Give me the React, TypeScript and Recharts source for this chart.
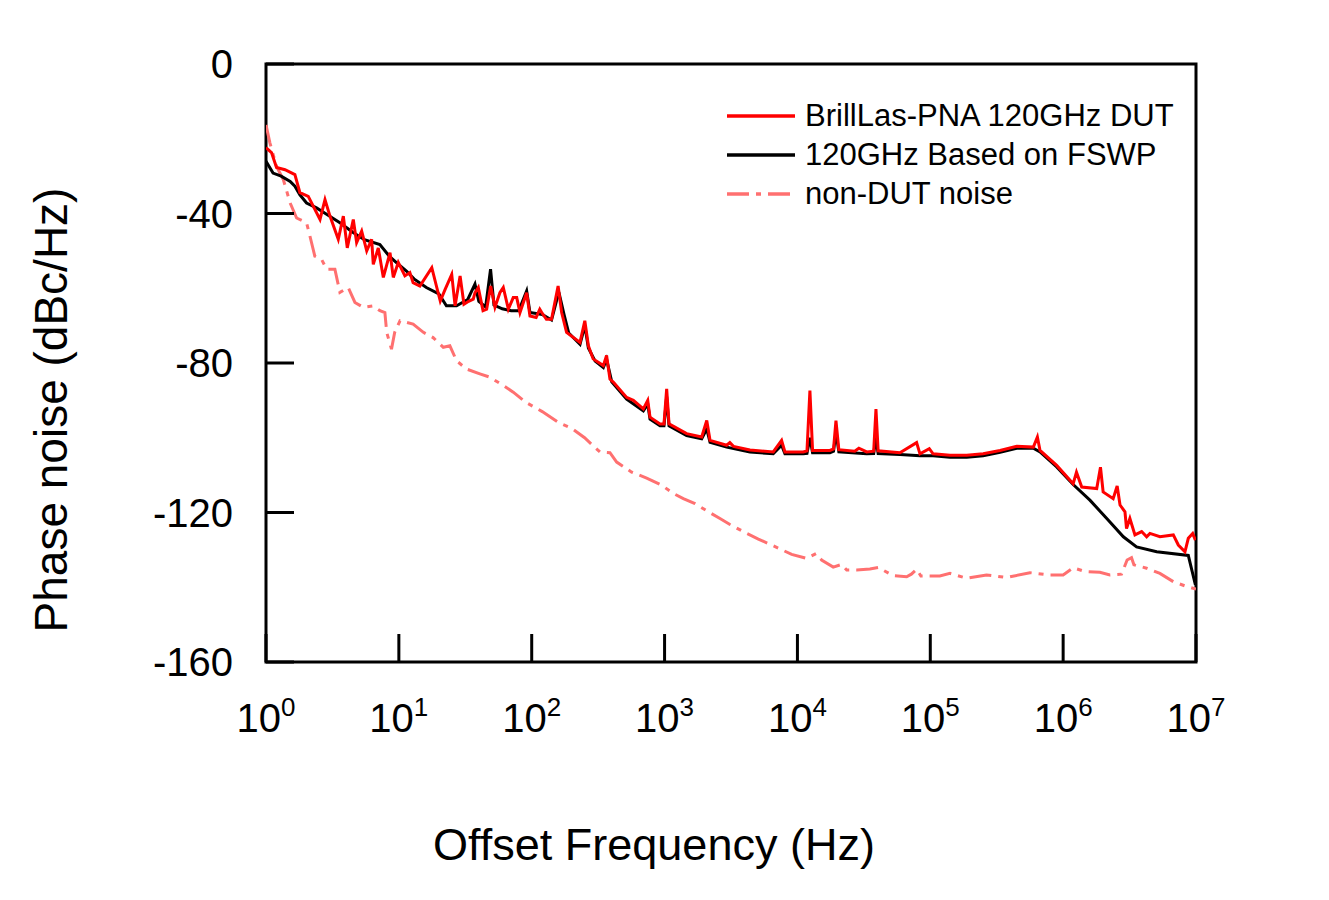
import React from "react";
import {
  LineChart,
  Line,
  XAxis,
  YAxis,
  ReferenceArea,
  Legend,
  Label,
} from "recharts";

const FONT = "'Liberation Sans', Arial, sans-serif";

// BrillLas-PNA 120GHz DUT (red)
const dutFreq = [
  1.0, 1.1, 1.2, 1.39, 1.65, 1.8, 2.08, 2.55, 2.78, 3.03, 3.5, 3.82, 4.09, 4.54,
  4.81, 5.25, 5.73, 6.24, 6.42, 7.0, 7.64, 8.58, 9.08, 9.9, 11.1, 12.1, 12.8,
  14.4, 17.7, 19.3, 20.5, 22.3, 25, 26.5, 28.9, 30.9, 33.5, 36.3, 37.4, 39.6,
  43, 45.8, 49.1, 52.9, 57.6, 61.1, 66.7, 72.6, 77.1, 81.6, 91.6, 97, 108, 115,
  119, 129, 141, 158, 168, 183, 231, 251, 267, 290, 346, 366, 388, 411, 518,
  582, 692, 747, 777, 924, 990, 1037, 1080, 1466, 1903, 2077, 2199, 2933, 3100,
  3300, 4394, 6577, 7600, 8054, 11063, 11800, 12415, 13000, 17568, 18700, 19498,
  20500, 27000, 29000, 33200, 37500, 39000, 40500, 59100, 78900, 83600, 98300,
  105000, 140700, 188000, 250000, 335000, 447000, 597000, 640000, 670000,
  894000, 1190000, 1260000, 1380000, 1790000, 1910000, 2000000, 2380000,
  2550000, 2680000, 2920000, 3000000, 3180000, 3470000, 3900000, 4250000,
  4500000, 5350000, 6750000, 7360000, 8260000, 8750000, 9440000, 9900000,
];
const dutPhase = [
  -22.4, -23.7, -27.7, -28.3, -29.6, -34.4, -35.4, -41.6, -36.3, -40.7, -46.9,
  -40.7, -49.2, -41.6, -47.8, -44.7, -50.0, -46.9, -53.6, -49.2, -57.1, -50.5,
  -57.1, -53.1, -56.7, -55.8, -58.5, -59.4, -54.5, -59.8, -63.4, -60.3, -56.3,
  -64.7, -56.7, -64.3, -63.5, -62.9, -61.2, -59.8, -66.0, -65.6, -59.4, -65.1,
  -61.2, -59.8, -65.6, -62.5, -62.5, -66.5, -61.2, -67.4, -67.8, -65.6, -66.5,
  -68.3, -68.3, -59.4, -66.5, -71.8, -74.5, -68.7, -75.4, -78.9, -80.7, -78.0,
  -84.3, -85.1, -89.2, -90.0, -92.3, -90.0, -94.5, -96.3, -96.3, -86.9, -96.3,
  -98.9, -99.8, -95.4, -100.7, -102.0, -101.3, -102.3, -103.3, -103.8, -100.7,
  -103.8, -103.8, -103.5, -87.4, -103.4, -103.4, -103.0, -95.4, -103.2, -103.6,
  -102.8, -103.8, -103.6, -92.3, -103.5, -104.0, -101.3, -104.3, -102.9,
  -104.3, -104.7, -104.7, -104.3, -103.4, -102.3, -102.5, -99.8, -103.4,
  -107.4, -112.3, -109.2, -113.2, -113.6, -107.9, -114.5, -116.3, -112.9,
  -118.0, -119.8, -124.3, -121.6, -126.0, -125.1, -126.5, -125.6, -126.5,
  -126.0, -128.7, -130.5, -126.9, -125.6, -127.4,
];

// 120GHz Based on FSWP (black)
const fswpFreq = [
  1.0, 1.13, 1.3, 1.52, 1.65, 1.8, 2.02, 2.4, 2.8, 3.6, 4.5, 5.5, 7.2, 8.5, 9.5,
  11.4, 13, 16.1, 20, 22.8, 27.2, 33, 37.4, 40, 45, 49, 52, 60, 70, 80, 91.6, 97,
  120, 141, 160, 175, 190, 231, 251, 267, 300, 346, 366, 400, 518, 692, 747,
  777, 924, 990, 1037, 1080, 1466, 1903, 2077, 2199, 2933, 4394, 6577, 7600,
  8054, 11063, 11800, 12415, 13000, 17568, 18700, 19498, 20500, 33200, 37500,
  39000, 40500, 59100, 83600, 105000, 140700, 188000, 250000, 335000, 447000,
  597000, 670000, 894000, 1190000, 1590000, 2130000, 2840000, 3570000, 5060000,
  8750000, 9900000,
];
const fswpPhase = [
  -26.0, -29.2, -30.0, -31.4, -32.7, -35.0, -37.2, -38.5, -40.0, -42.5, -45.0,
  -47.0, -48.3, -51.5, -53.0, -55.4, -57.5, -59.8, -61.5, -64.7, -64.7, -63.0,
  -58.9, -63.5, -65.0, -54.9, -64.5, -65.5, -66.0, -66.0, -60.7, -66.5, -67.0,
  -68.5, -61.0, -67.0, -72.0, -75.0, -70.0, -76.0, -79.5, -81.2, -79.0, -85.0,
  -89.7, -92.8, -91.0, -95.0, -96.8, -96.8, -89.0, -96.8, -99.4, -100.3, -97.6,
  -101.2, -102.5, -103.8, -104.3, -102.0, -104.3, -104.3, -104.2, -100.0,
  -104.0, -104.0, -103.6, -98.5, -103.8, -104.3, -104.2, -100.0, -104.2,
  -104.5, -104.8, -104.8, -105.2, -105.2, -104.8, -103.9, -102.8, -102.8,
  -103.8, -107.8, -112.5, -116.7, -121.6, -126.5, -129.2, -130.5, -131.5,
  -139.4,
];

// non-DUT noise (dash-dot)
const nonDutFreq = [
  1.0, 1.07, 1.2, 1.35, 1.52, 1.7, 2.02, 2.14, 2.33, 2.62, 2.86, 3.3, 3.6, 4.16,
  4.67, 5.4, 6.4, 7.2, 7.85, 8.1, 8.8, 9.3, 10.2, 12.8, 15.3, 18.1, 21.6, 24.2,
  27.2, 32.2, 40.7, 48.4, 61.0, 72.6, 90, 120, 160, 200, 250, 326, 388, 436, 565,
  733, 951, 1164, 1384, 1694, 2133, 2612, 3105, 4150, 5080, 6580, 9050, 11750,
  13800, 15200, 18600, 21500, 23500, 27900, 35100, 40600, 45000, 52600, 66400,
  72000, 78900, 85000, 96600, 118000, 140700, 188000, 265000, 376000, 562000,
  773000, 1000000, 1190000, 1460000, 1890000, 2250000, 2750000, 3030000,
  3270000, 3410000, 4250000, 5350000, 6750000, 8500000, 10000000,
];
const nonDutPhase = [
  -16.3, -21.1, -27.4, -30.9, -37.2, -41.2, -42.5, -46.0, -51.4, -52.3, -54.9,
  -54.9, -61.1, -59.8, -63.8, -65.1, -64.7, -66.0, -66.5, -71.8, -76.3, -71.8,
  -68.7, -69.6, -71.8, -73.2, -75.8, -75.4, -79.4, -81.6, -82.9, -83.8, -86.0,
  -87.8, -90.5, -93.0, -96.0, -97.5, -100.0, -103.8, -104.0, -106.5, -109.2,
  -110.8, -112.7, -114.9, -116.3, -117.6, -119.8, -121.6, -123.2, -125.6,
  -127.1, -128.9, -131.2, -132.3, -131.0, -132.7, -134.6, -133.9, -135.4,
  -135.4, -135.1, -134.7, -135.6, -136.9, -137.2, -136.5, -135.2, -137.0,
  -137.0, -137.0, -136.3, -137.6, -136.7, -137.4, -136.1, -136.7, -136.7,
  -134.8, -135.8, -136.0, -136.7, -136.5, -132.7, -132.1, -134.0, -134.9,
  -136.3, -138.5, -139.8, -140.5,
];

const xTicks = [1, 10, 100, 1e3, 1e4, 1e5, 1e6, 1e7];
const yTicks = [0, -40, -80, -120, -160];

const series = [
  { name: "BrillLas-PNA 120GHz DUT", color: "#ff0000", dash: undefined as string | undefined },
  { name: "120GHz Based on FSWP", color: "#000000", dash: undefined as string | undefined },
  { name: "non-DUT noise", color: "#ff7070", dash: "22 7 5 7" },
];

const toRows = (fs: number[], vs: number[]) => fs.map((f, i) => ({ f, v: vs[i] }));
const dutData = toRows(dutFreq, dutPhase);
const fswpData = toRows(fswpFreq, fswpPhase);
const nonDutData = toRows(nonDutFreq, nonDutPhase);

const XTick = (props: any) => {
  const { x, y, payload } = props;
  const exp = Math.round(Math.log10(payload.value));
  return (
    <g>
      <line x1={x} y1={y} x2={x} y2={y - 28} stroke="#000" strokeWidth={3} />
      <text x={x} y={y + 70} textAnchor="middle" fontFamily={FONT} fontSize={40} fill="#000">
        <tspan>10</tspan>
        <tspan dy={-16} fontSize={26}>{exp}</tspan>
      </text>
    </g>
  );
};

const YTick = (props: any) => {
  const { x, y, payload } = props;
  return (
    <g>
      <line x1={x} y1={y} x2={x + 28} y2={y} stroke="#000" strokeWidth={3} />
      <text x={x - 33} y={y} dy="0.36em" textAnchor="end" fontFamily={FONT} fontSize={40} fill="#000">
        {payload.value}
      </text>
    </g>
  );
};

const renderLegend = () => (
  <div style={{ fontFamily: FONT, fontSize: 31, color: "#000" }}>
    {series.map((s) => (
      <div key={s.name} style={{ display: "flex", alignItems: "center", height: 39 }}>
        <svg width={68} height={10} style={{ marginRight: 10 }}>
          <line x1={0} y1={5} x2={68} y2={5} stroke={s.color} strokeWidth={3.5} strokeDasharray={s.dash} />
        </svg>
        <span style={{ whiteSpace: "nowrap" }}>{s.name}</span>
      </div>
    ))}
  </div>
);

const XTitle = (props: any) => {
  const { viewBox } = props;
  return (
    <text x={viewBox.x + 388} y={852} textAnchor="middle" fontFamily={FONT} fontSize={45} fill="#000">
      Offset Frequency (Hz)
    </text>
  );
};

const YTitle = () => (
  <text
    x={59}
    y={402}
    transform="rotate(-90 59 402)"
    textAnchor="middle"
    fontFamily={FONT}
    fontSize={46}
    fill="#000"
  >
    Phase noise (dBc/Hz)
  </text>
);

export default function App() {
  return (
    <LineChart width={1313} height={892} margin={{ top: 56, right: 125, left: 0, bottom: 0 }}>
      <XAxis
        dataKey="f"
        type="number"
        scale="log"
        domain={[1, 1e7]}
        ticks={xTicks}
        allowDataOverflow
        axisLine={false}
        tickLine={false}
        tickSize={0}
        tickMargin={0}
        height={238}
        tick={<XTick />}
        interval={0}
      >
        <Label content={<XTitle />} />
      </XAxis>
      <YAxis
        type="number"
        domain={[-160, 0]}
        ticks={yTicks}
        allowDataOverflow
        axisLine={false}
        tickLine={false}
        tickSize={0}
        tickMargin={0}
        width={258}
        tick={<YTick />}
        interval={0}
      >
        <Label content={<YTitle />} />
      </YAxis>
      <Legend
        content={renderLegend}
        layout="horizontal"
        align="center"
        verticalAlign="middle"
        wrapperStyle={{ left: 719, top: 88, width: "auto" }}
      />
      <Line
        data={nonDutData}
        dataKey="v"
        name={series[2].name}
        stroke={series[2].color}
        strokeWidth={3}
        strokeDasharray={series[2].dash}
        dot={false}
        type="linear"
        isAnimationActive={false}
      />
      <Line
        data={fswpData}
        dataKey="v"
        name={series[1].name}
        stroke={series[1].color}
        strokeWidth={3}
        dot={false}
        type="linear"
        isAnimationActive={false}
      />
      <Line
        data={dutData}
        dataKey="v"
        name={series[0].name}
        stroke={series[0].color}
        strokeWidth={3}
        dot={false}
        type="linear"
        isAnimationActive={false}
      />
      <ReferenceArea
        x1={1}
        x2={1e7}
        y1={-160}
        y2={0}
        fill="none"
        fillOpacity={0}
        stroke="#000"
        strokeWidth={3}
        ifOverflow="visible"
      />
    </LineChart>
  );
}
